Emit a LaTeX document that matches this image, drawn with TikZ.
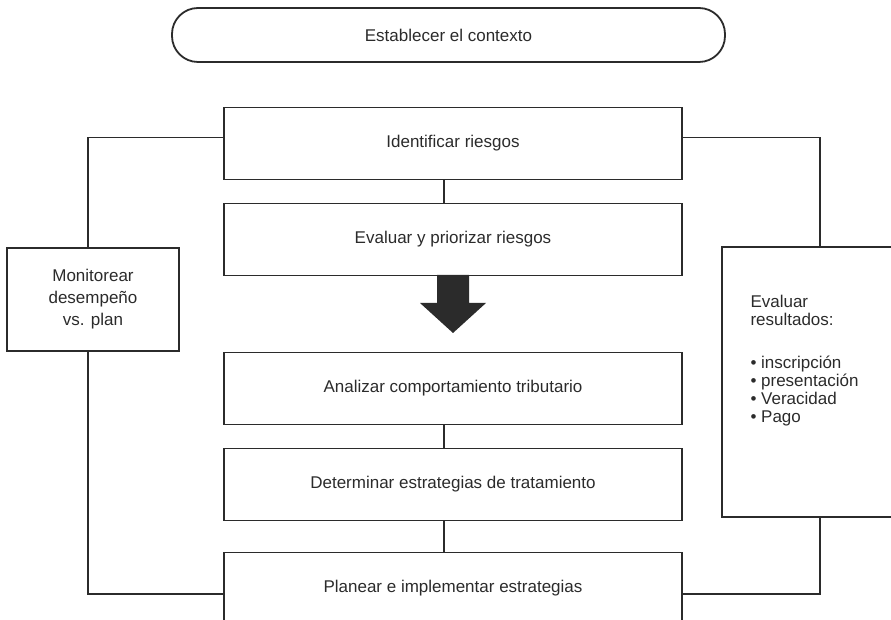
\documentclass[tikz,border=0pt]{standalone}
\usepackage{fontspec}
\setmainfont{Liberation Sans}
\usetikzlibrary{positioning}

\definecolor{ink}{HTML}{2B2B2B}

\begin{document}
\begin{tikzpicture}[x=0.5pt, y=-0.5pt, node distance = 48pt,
  every node/.style = {font=\fontsize{8.5}{11}\selectfont, text=ink},
  box/.style = {draw=ink, line width=0.9pt, minimum width=229pt, minimum height=36pt},
  link/.style = {draw=ink, line width=0.9pt}]

\useasboundingbox (0,0) rectangle (891,620);
\clip (0,0) rectangle (891,620);

\node[draw=ink, line width=0.9pt, rounded corners=13pt, minimum width=276.5pt,
      minimum height=27pt] (ctx) at (448.5,35) {Establecer el contexto};

% main column
\node[box] (s_0) at (453,143.5) {Identificar riesgos};
\node[box, below of=s_0] (s_1) {Evaluar y priorizar riesgos};
\node[box, below of=s_1, node distance=74.5pt] (s_2) {Analizar comportamiento tributario};
\node[box, below of=s_2] (s_3) {Determinar estrategias de tratamiento};
\node[box, below of=s_3, node distance=52pt] (s_4) {Planear e implementar estrategias};

% side boxes
\node[draw=ink, line width=0.9pt, minimum width=86pt, minimum height=51.5pt,
      align=center] (mon) at (93,299.5) {Monitorear\\desempeño\\vs. plan};
\node[draw=ink, line width=0.9pt, minimum width=98pt, minimum height=135pt] (res) at (820,382) {};
\node[anchor=north west, inner sep=0pt, align=left, font=\fontsize{8.5}{9}\selectfont]
  (res_txt) at ([xshift=14.5pt, yshift=-24.5pt]res.north west)
  {Evaluar\\resultados:\\[12.5pt]\textbullet\ inscripción\\\textbullet\ presentación\\\textbullet\ Veracidad\\\textbullet\ Pago};

\draw[link] ([xshift=-4.5pt]s_0.south) -- ([xshift=-4.5pt]s_1.north);
\draw[link] ([xshift=-4.5pt]s_2.south) -- ([xshift=-4.5pt]s_3.north);
\draw[link] ([xshift=-4.5pt]s_3.south) -- ([xshift=-4.5pt]s_4.north);

\draw[link] ([xshift=-2.5pt]mon.north) |- ([yshift=3pt]s_0.west);
\draw[link] ([xshift=-2.5pt]mon.south) |- ([yshift=-2.75pt]s_4.west);
\draw[link] ([yshift=3pt]s_0.east) -| (res.north);
\draw[link] (res.south) |- ([yshift=-2.75pt]s_4.east);

% block arrow
\fill[ink] (437,275) -- (469,275) -- (469,303) -- (486,303) -- (453,333)
  -- (420,303) -- (437,303) -- cycle;

\end{tikzpicture}
\end{document}
